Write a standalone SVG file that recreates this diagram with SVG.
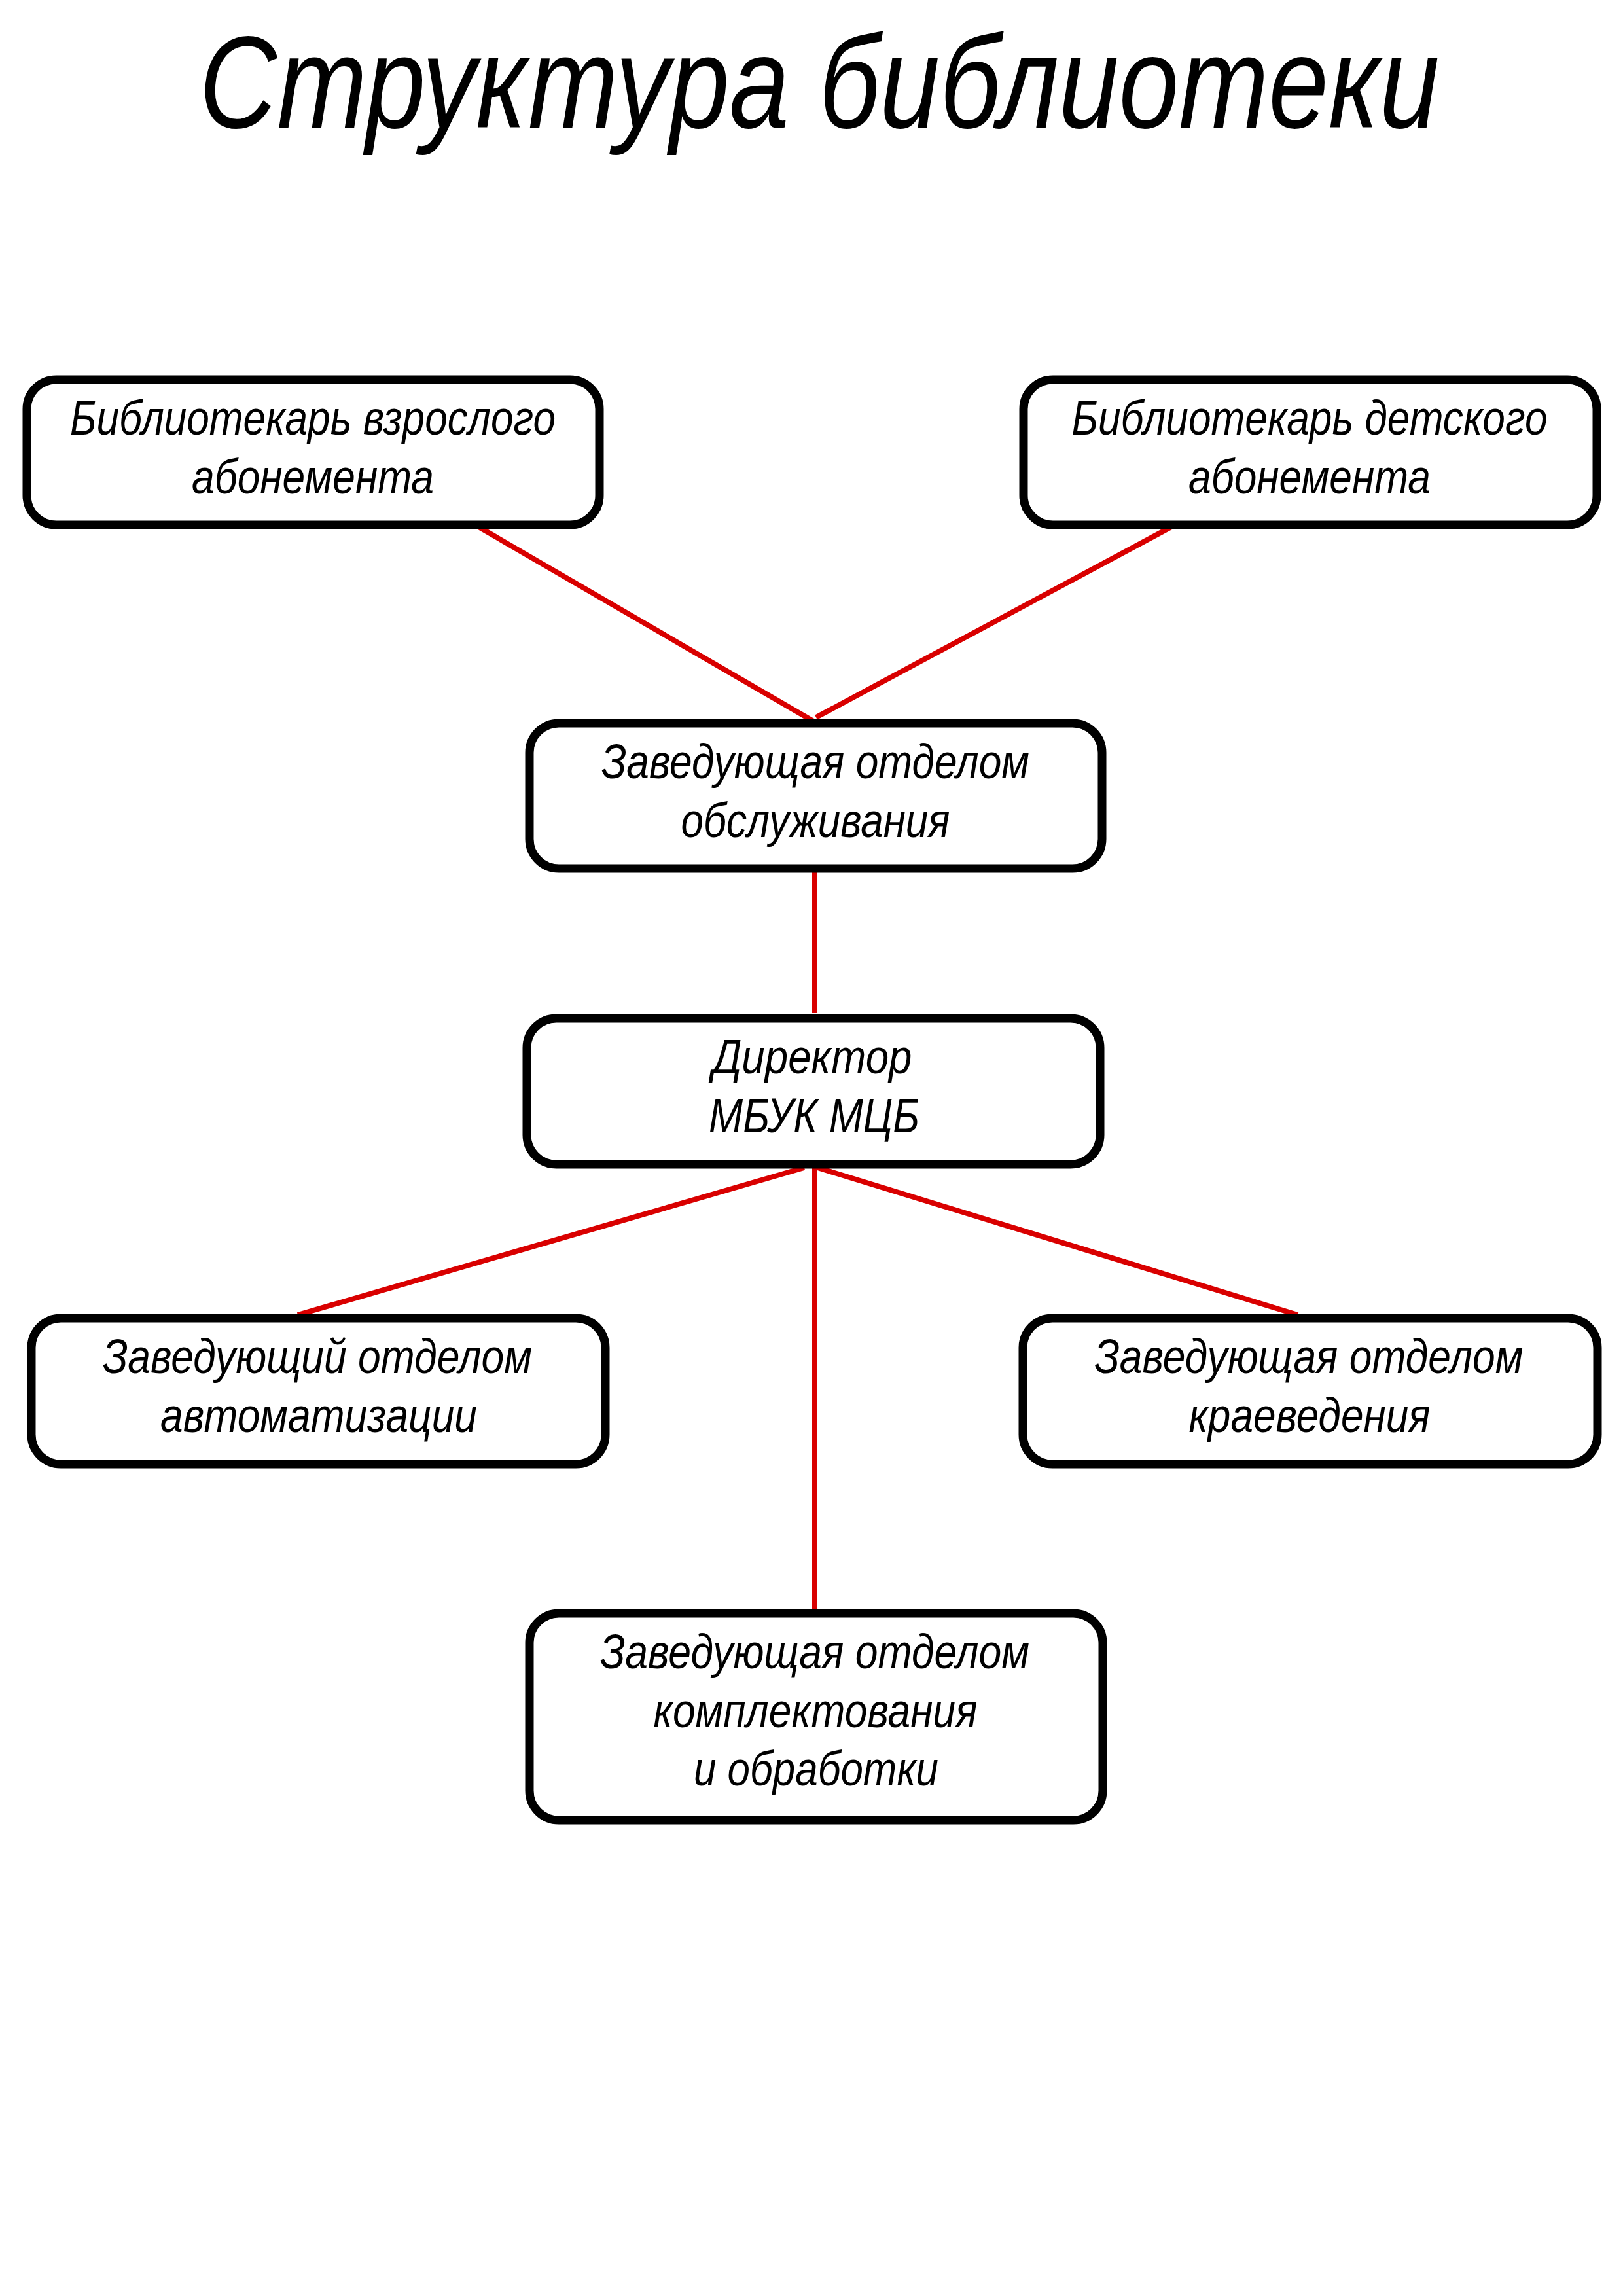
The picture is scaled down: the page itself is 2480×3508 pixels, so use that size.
<svg xmlns="http://www.w3.org/2000/svg" width="2480" height="3508" viewBox="0 0 2480 3508">
<style>
.box{fill:#fff;stroke:#000;stroke-width:13}
.t{font-family:"Liberation Sans","Arial",sans-serif;font-style:italic;font-size:74px;fill:#000;text-anchor:middle}
.title{font-family:"Liberation Sans","Arial",sans-serif;font-style:italic;font-size:200px;fill:#000;text-anchor:middle}
.c{stroke:#d90000;stroke-width:8;fill:none}
</style>
<rect width="2480" height="3508" fill="#fff"/>
<text class="title" x="1252" y="195" textLength="1895" lengthAdjust="spacingAndGlyphs">Структура библиотеки</text>
<g id="connectors">
<line class="c" x1="733" y1="806" x2="1243" y2="1102"/>
<line class="c" x1="1790" y1="805" x2="1247" y2="1096"/>
<line class="c" x1="1245" y1="1333" x2="1245" y2="1548"/>
<line class="c" x1="1229" y1="1784" x2="455" y2="2009"/>
<line class="c" x1="1246" y1="1783" x2="1983" y2="2009"/>
<line class="c" x1="1245" y1="1785" x2="1245" y2="2461"/>
</g>
<g id="n1">
<rect class="box" x="41" y="580" width="875" height="222" rx="45"/>
<text class="t" x="478" y="664" textLength="742" lengthAdjust="spacingAndGlyphs">Библиотекарь взрослого</text>
<text class="t" x="478" y="754" textLength="370" lengthAdjust="spacingAndGlyphs">абонемента</text>
</g>
<g id="n2">
<rect class="box" x="1564" y="580" width="876" height="222" rx="45"/>
<text class="t" x="2001" y="664" textLength="727" lengthAdjust="spacingAndGlyphs">Библиотекарь детского</text>
<text class="t" x="2001" y="754" textLength="370" lengthAdjust="spacingAndGlyphs">абонемента</text>
</g>
<g id="n3">
<rect class="box" x="809" y="1105" width="875" height="222" rx="45"/>
<text class="t" x="1246" y="1189" textLength="654" lengthAdjust="spacingAndGlyphs">Заведующая отделом</text>
<text class="t" x="1246" y="1279" textLength="411" lengthAdjust="spacingAndGlyphs">обслуживания</text>
</g>
<g id="n4">
<rect class="box" x="805" y="1556" width="876" height="223" rx="45"/>
<text class="t" x="1241" y="1640" textLength="305" lengthAdjust="spacingAndGlyphs">Директор</text>
<text class="t" x="1244" y="1730" textLength="322" lengthAdjust="spacingAndGlyphs">МБУК МЦБ</text>
</g>
<g id="n5">
<rect class="box" x="48" y="2014" width="877" height="223" rx="45"/>
<text class="t" x="485" y="2098" textLength="656" lengthAdjust="spacingAndGlyphs">Заведующий отделом</text>
<text class="t" x="487" y="2188" textLength="484" lengthAdjust="spacingAndGlyphs">автоматизации</text>
</g>
<g id="n6">
<rect class="box" x="1563" y="2014" width="878" height="223" rx="45"/>
<text class="t" x="2000" y="2098" textLength="655" lengthAdjust="spacingAndGlyphs">Заведующая отделом</text>
<text class="t" x="2001" y="2188" textLength="369" lengthAdjust="spacingAndGlyphs">краеведения</text>
</g>
<g id="n7">
<rect class="box" x="809" y="2465" width="876" height="316" rx="45"/>
<text class="t" x="1245" y="2549" textLength="656" lengthAdjust="spacingAndGlyphs">Заведующая отделом</text>
<text class="t" x="1246" y="2639" textLength="495" lengthAdjust="spacingAndGlyphs">комплектования</text>
<text class="t" x="1247" y="2728" textLength="374" lengthAdjust="spacingAndGlyphs">и обработки</text>
</g>
</svg>
